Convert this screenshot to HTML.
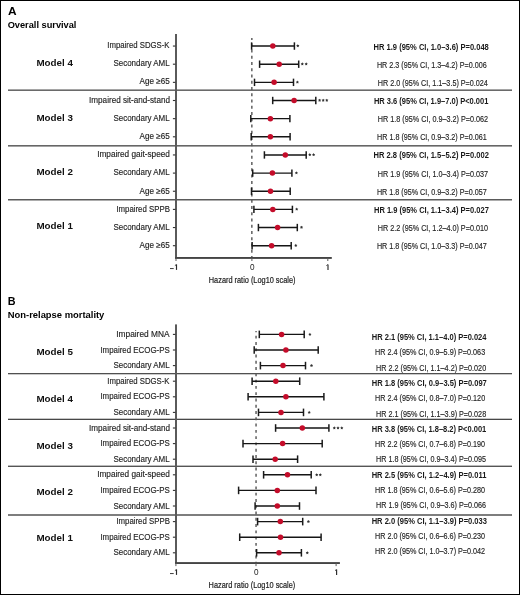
<!DOCTYPE html>
<html><head><meta charset="utf-8"><style>
html,body{margin:0;padding:0;background:#fff;width:520px;height:595px;overflow:hidden}
svg{display:block;will-change:transform}
text{font-family:"Liberation Sans",sans-serif}
.pl{font-size:11.4px;font-weight:bold;fill:#000}
.ttl{font-size:9.9px;font-weight:bold;fill:#000}
.model{font-size:9.8px;font-weight:bold;fill:#111}
.lab{font-size:8.6px;fill:#1e1e1e;stroke:#222;stroke-width:0.15px}
.rr{font-size:8.6px;fill:#262626;stroke:#222;stroke-width:0.15px}
.rb{font-size:8.6px;font-weight:bold;fill:#1a1a1a}
.tick{font-size:8.2px;fill:#222}
.axt{font-size:9.0px;fill:#222;stroke:#222;stroke-width:0.2px}
</style></head><body>
<svg width="520" height="595" viewBox="0 0 520 595">
<rect width="520" height="595" fill="#fff"/>
<rect x="0.5" y="0.5" width="519" height="594" fill="none" stroke="#000" stroke-width="1"/>
<text x="7.9" y="14.9" class="pl" textLength="8.6" lengthAdjust="spacingAndGlyphs">A</text>
<text x="7.63" y="27.6" class="ttl" textLength="68.8" lengthAdjust="spacingAndGlyphs">Overall survival</text>
<text x="7.8" y="304.8" class="pl" textLength="7.8" lengthAdjust="spacingAndGlyphs">B</text>
<text x="7.74" y="318.2" class="ttl" textLength="96.63" lengthAdjust="spacingAndGlyphs">Non-relapse mortality</text>
<rect x="8" y="89.4" width="504" height="1.6" fill="#6a6a6a"/>
<rect x="8" y="145" width="504" height="1.6" fill="#666"/>
<rect x="8" y="199" width="504" height="1.5" fill="#5a5a5a"/>
<line x1="251.85" y1="37.9" x2="251.85" y2="257.8" stroke="#555" stroke-width="1.4" stroke-dasharray="3.0 3.26" stroke-dashoffset="1.0"/>
<rect x="175" y="34" width="2" height="224.8" fill="#5a5a5a"/>
<rect x="175" y="257" width="156.8" height="1.9" fill="#444"/>
<rect x="175.5" y="257.8" width="1" height="3.2" fill="#5a5a5a"/>
<rect x="251.4" y="257.8" width="1" height="3.2" fill="#5a5a5a"/>
<rect x="327.3" y="257.8" width="1" height="3.2" fill="#5a5a5a"/>
<rect x="172.9" y="45.5" width="2.6" height="1.1" fill="#333"/>
<text x="107.3" y="47.8" class="lab" textLength="62.25" lengthAdjust="spacingAndGlyphs">Impaired SDGS-K</text>
<line x1="251.6" y1="46.05" x2="294.4" y2="46.05" stroke="#151515" stroke-width="1.4"/>
<line x1="251.6" y1="42.35" x2="251.6" y2="49.75" stroke="#1a1a1a" stroke-width="1.5"/>
<line x1="294.4" y1="42.35" x2="294.4" y2="49.75" stroke="#1a1a1a" stroke-width="1.5"/>
<circle cx="272.8" cy="46.05" r="2.75" fill="#c40c2a"/>
<polygon fill="#333" points="297.8,44.2 298.33,45.12 299.37,45.34 298.66,46.13 298.77,47.18 297.8,46.76 296.83,47.18 296.94,46.13 296.23,45.34 297.27,45.12"/>
<text x="373.55" y="49.8" class="rb" textLength="115.25" lengthAdjust="spacingAndGlyphs">HR 1.9 (95% CI, 1.0–3.6) P=0.048</text>
<rect x="172.9" y="63.65" width="2.6" height="1.1" fill="#333"/>
<text x="113.43" y="66.04" class="lab" textLength="56.27" lengthAdjust="spacingAndGlyphs">Secondary AML</text>
<line x1="259.6" y1="64.2" x2="298.7" y2="64.2" stroke="#151515" stroke-width="1.4"/>
<line x1="259.6" y1="60.5" x2="259.6" y2="67.9" stroke="#1a1a1a" stroke-width="1.5"/>
<line x1="298.7" y1="60.5" x2="298.7" y2="67.9" stroke="#1a1a1a" stroke-width="1.5"/>
<circle cx="279.2" cy="64.2" r="2.75" fill="#c40c2a"/>
<polygon fill="#333" points="302.3,62.35 302.83,63.27 303.87,63.49 303.16,64.28 303.27,65.33 302.3,64.91 301.33,65.33 301.44,64.28 300.73,63.49 301.77,63.27"/>
<polygon fill="#333" points="306.2,62.35 306.73,63.27 307.77,63.49 307.06,64.28 307.17,65.33 306.2,64.91 305.23,65.33 305.34,64.28 304.63,63.49 305.67,63.27"/>
<text x="376.92" y="67.91" class="rr" textLength="109.74" lengthAdjust="spacingAndGlyphs">HR 2.3 (95% CI, 1.3–4.2) P=0.006</text>
<rect x="172.9" y="81.8" width="2.6" height="1.1" fill="#333"/>
<text x="139.6" y="84.28" class="lab" textLength="30.19" lengthAdjust="spacingAndGlyphs">Age ≥65</text>
<line x1="254.5" y1="82.35" x2="293.5" y2="82.35" stroke="#151515" stroke-width="1.4"/>
<line x1="254.5" y1="78.65" x2="254.5" y2="86.05" stroke="#1a1a1a" stroke-width="1.5"/>
<line x1="293.5" y1="78.65" x2="293.5" y2="86.05" stroke="#1a1a1a" stroke-width="1.5"/>
<circle cx="274.1" cy="82.35" r="2.75" fill="#c40c2a"/>
<polygon fill="#333" points="297.4,80.5 297.93,81.42 298.97,81.64 298.26,82.43 298.37,83.48 297.4,83.06 296.43,83.48 296.54,82.43 295.83,81.64 296.87,81.42"/>
<text x="377.82" y="86.02" class="rr" textLength="110.07" lengthAdjust="spacingAndGlyphs">HR 2.0 (95% CI, 1.1–3.5) P=0.024</text>
<rect x="172.9" y="99.95" width="2.6" height="1.1" fill="#333"/>
<text x="89.07" y="102.52" class="lab" textLength="80.89" lengthAdjust="spacingAndGlyphs">Impaired sit-and-stand</text>
<line x1="272.7" y1="100.5" x2="315.8" y2="100.5" stroke="#151515" stroke-width="1.4"/>
<line x1="272.7" y1="96.8" x2="272.7" y2="104.2" stroke="#1a1a1a" stroke-width="1.5"/>
<line x1="315.8" y1="96.8" x2="315.8" y2="104.2" stroke="#1a1a1a" stroke-width="1.5"/>
<circle cx="294.1" cy="100.5" r="2.75" fill="#c40c2a"/>
<polygon fill="#333" points="319.6,98.65 320.13,99.57 321.17,99.79 320.46,100.58 320.57,101.63 319.6,101.21 318.63,101.63 318.74,100.58 318.03,99.79 319.07,99.57"/>
<polygon fill="#333" points="323.2,98.65 323.73,99.57 324.77,99.79 324.06,100.58 324.17,101.63 323.2,101.21 322.23,101.63 322.34,100.58 321.63,99.79 322.67,99.57"/>
<polygon fill="#333" points="326.8,98.65 327.33,99.57 328.37,99.79 327.66,100.58 327.77,101.63 326.8,101.21 325.83,101.63 325.94,100.58 325.23,99.79 326.27,99.57"/>
<text x="373.95" y="104.13" class="rb" textLength="114.45" lengthAdjust="spacingAndGlyphs">HR 3.6 (95% CI, 1.9–7.0) P<0.001</text>
<rect x="172.9" y="118.1" width="2.6" height="1.1" fill="#333"/>
<text x="113.43" y="120.76" class="lab" textLength="56.27" lengthAdjust="spacingAndGlyphs">Secondary AML</text>
<line x1="250.8" y1="118.65" x2="289.9" y2="118.65" stroke="#151515" stroke-width="1.4"/>
<line x1="250.8" y1="114.95" x2="250.8" y2="122.35" stroke="#1a1a1a" stroke-width="1.5"/>
<line x1="289.9" y1="114.95" x2="289.9" y2="122.35" stroke="#1a1a1a" stroke-width="1.5"/>
<circle cx="270.4" cy="118.65" r="2.75" fill="#c40c2a"/>
<text x="377.82" y="122.24" class="rr" textLength="110.21" lengthAdjust="spacingAndGlyphs">HR 1.8 (95% CI, 0.9–3.2) P=0.062</text>
<rect x="172.9" y="136.25" width="2.6" height="1.1" fill="#333"/>
<text x="139.6" y="139" class="lab" textLength="30.19" lengthAdjust="spacingAndGlyphs">Age ≥65</text>
<line x1="251.2" y1="136.8" x2="290.1" y2="136.8" stroke="#151515" stroke-width="1.4"/>
<line x1="251.2" y1="133.1" x2="251.2" y2="140.5" stroke="#1a1a1a" stroke-width="1.5"/>
<line x1="290.1" y1="133.1" x2="290.1" y2="140.5" stroke="#1a1a1a" stroke-width="1.5"/>
<circle cx="270.4" cy="136.8" r="2.75" fill="#c40c2a"/>
<text x="377.02" y="140.35" class="rr" textLength="109.71" lengthAdjust="spacingAndGlyphs">HR 1.8 (95% CI, 0.9–3.2) P=0.061</text>
<rect x="172.9" y="154.4" width="2.6" height="1.1" fill="#333"/>
<text x="97.16" y="157.24" class="lab" textLength="72.8" lengthAdjust="spacingAndGlyphs">Impaired gait-speed</text>
<line x1="264.4" y1="154.95" x2="306.2" y2="154.95" stroke="#151515" stroke-width="1.4"/>
<line x1="264.4" y1="151.25" x2="264.4" y2="158.65" stroke="#1a1a1a" stroke-width="1.5"/>
<line x1="306.2" y1="151.25" x2="306.2" y2="158.65" stroke="#1a1a1a" stroke-width="1.5"/>
<circle cx="285.3" cy="154.95" r="2.75" fill="#c40c2a"/>
<polygon fill="#333" points="309.8,153.1 310.33,154.02 311.37,154.24 310.66,155.03 310.77,156.08 309.8,155.66 308.83,156.08 308.94,155.03 308.23,154.24 309.27,154.02"/>
<polygon fill="#333" points="313.6,153.1 314.13,154.02 315.17,154.24 314.46,155.03 314.57,156.08 313.6,155.66 312.63,156.08 312.74,155.03 312.03,154.24 313.07,154.02"/>
<text x="373.55" y="158.46" class="rb" textLength="115.33" lengthAdjust="spacingAndGlyphs">HR 2.8 (95% CI, 1.5–5.2) P=0.002</text>
<rect x="172.9" y="172.55" width="2.6" height="1.1" fill="#333"/>
<text x="113.43" y="175.48" class="lab" textLength="56.27" lengthAdjust="spacingAndGlyphs">Secondary AML</text>
<line x1="252.7" y1="173.1" x2="291.9" y2="173.1" stroke="#151515" stroke-width="1.4"/>
<line x1="252.7" y1="169.4" x2="252.7" y2="176.8" stroke="#1a1a1a" stroke-width="1.5"/>
<line x1="291.9" y1="169.4" x2="291.9" y2="176.8" stroke="#1a1a1a" stroke-width="1.5"/>
<circle cx="272.4" cy="173.1" r="2.75" fill="#c40c2a"/>
<polygon fill="#333" points="296.4,171.25 296.93,172.17 297.97,172.39 297.26,173.18 297.37,174.23 296.4,173.81 295.43,174.23 295.54,173.18 294.83,172.39 295.87,172.17"/>
<text x="377.82" y="176.57" class="rr" textLength="110.21" lengthAdjust="spacingAndGlyphs">HR 1.9 (95% CI, 1.0–3.4) P=0.037</text>
<rect x="172.9" y="190.7" width="2.6" height="1.1" fill="#333"/>
<text x="139.6" y="193.72" class="lab" textLength="30.19" lengthAdjust="spacingAndGlyphs">Age ≥65</text>
<line x1="251.5" y1="191.25" x2="290.2" y2="191.25" stroke="#151515" stroke-width="1.4"/>
<line x1="251.5" y1="187.55" x2="251.5" y2="194.95" stroke="#1a1a1a" stroke-width="1.5"/>
<line x1="290.2" y1="187.55" x2="290.2" y2="194.95" stroke="#1a1a1a" stroke-width="1.5"/>
<circle cx="270.5" cy="191.25" r="2.75" fill="#c40c2a"/>
<text x="376.92" y="194.68" class="rr" textLength="109.81" lengthAdjust="spacingAndGlyphs">HR 1.8 (95% CI, 0.9–3.2) P=0.057</text>
<rect x="172.9" y="208.85" width="2.6" height="1.1" fill="#333"/>
<text x="116.4" y="211.96" class="lab" textLength="53.47" lengthAdjust="spacingAndGlyphs">Impaired SPPB</text>
<line x1="253.9" y1="209.4" x2="292.4" y2="209.4" stroke="#151515" stroke-width="1.4"/>
<line x1="253.9" y1="205.7" x2="253.9" y2="213.1" stroke="#1a1a1a" stroke-width="1.5"/>
<line x1="292.4" y1="205.7" x2="292.4" y2="213.1" stroke="#1a1a1a" stroke-width="1.5"/>
<circle cx="272.8" cy="209.4" r="2.75" fill="#c40c2a"/>
<polygon fill="#333" points="296.7,207.55 297.23,208.47 298.27,208.69 297.56,209.48 297.67,210.53 296.7,210.11 295.73,210.53 295.84,209.48 295.13,208.69 296.17,208.47"/>
<text x="373.95" y="212.79" class="rb" textLength="114.92" lengthAdjust="spacingAndGlyphs">HR 1.9 (95% CI, 1.1–3.4) P=0.027</text>
<rect x="172.9" y="227" width="2.6" height="1.1" fill="#333"/>
<text x="113.43" y="230.2" class="lab" textLength="56.27" lengthAdjust="spacingAndGlyphs">Secondary AML</text>
<line x1="258.4" y1="227.55" x2="297.3" y2="227.55" stroke="#151515" stroke-width="1.4"/>
<line x1="258.4" y1="223.85" x2="258.4" y2="231.25" stroke="#1a1a1a" stroke-width="1.5"/>
<line x1="297.3" y1="223.85" x2="297.3" y2="231.25" stroke="#1a1a1a" stroke-width="1.5"/>
<circle cx="277.6" cy="227.55" r="2.75" fill="#c40c2a"/>
<polygon fill="#333" points="301.5,225.7 302.03,226.62 303.07,226.84 302.36,227.63 302.47,228.68 301.5,228.26 300.53,228.68 300.64,227.63 299.93,226.84 300.97,226.62"/>
<text x="377.82" y="230.9" class="rr" textLength="110.14" lengthAdjust="spacingAndGlyphs">HR 2.2 (95% CI, 1.2–4.0) P=0.010</text>
<rect x="172.9" y="245.15" width="2.6" height="1.1" fill="#333"/>
<text x="139.6" y="248.44" class="lab" textLength="30.19" lengthAdjust="spacingAndGlyphs">Age ≥65</text>
<line x1="252.1" y1="245.7" x2="291.2" y2="245.7" stroke="#151515" stroke-width="1.4"/>
<line x1="252.1" y1="242" x2="252.1" y2="249.4" stroke="#1a1a1a" stroke-width="1.5"/>
<line x1="291.2" y1="242" x2="291.2" y2="249.4" stroke="#1a1a1a" stroke-width="1.5"/>
<circle cx="271.6" cy="245.7" r="2.75" fill="#c40c2a"/>
<polygon fill="#333" points="295.8,243.85 296.33,244.77 297.37,244.99 296.66,245.78 296.77,246.83 295.8,246.41 294.83,246.83 294.94,245.78 294.23,244.99 295.27,244.77"/>
<text x="376.92" y="249.01" class="rr" textLength="109.81" lengthAdjust="spacingAndGlyphs">HR 1.8 (95% CI, 1.0–3.3) P=0.047</text>
<text x="36.4" y="66.2" class="model">Model 4</text>
<text x="36.4" y="120.7" class="model">Model 3</text>
<text x="36.4" y="174.8" class="model">Model 2</text>
<text x="36.4" y="229.4" class="model">Model 1</text>
<rect x="170" y="268.15" width="3.7" height="0.9" fill="#2a2a2a"/>
<path d="M176.5 264.4V269.9" stroke="#2a2a2a" stroke-width="1.15" fill="none"/><path d="M176.3 264.6L174.9 265.6" stroke="#2a2a2a" stroke-width="0.9" fill="none"/>
<path d="M328 264.4V269.9" stroke="#2a2a2a" stroke-width="1.15" fill="none"/><path d="M327.8 264.6L326.4 265.6" stroke="#2a2a2a" stroke-width="0.9" fill="none"/>
<text x="252.2" y="269.9" text-anchor="middle" class="tick">0</text>
<text x="208.81" y="283" class="axt" textLength="86.68" lengthAdjust="spacingAndGlyphs">Hazard ratio (Log10 scale)</text>
<rect x="8" y="373" width="504" height="1.3" fill="#505050"/>
<rect x="8" y="418.7" width="504" height="1.3" fill="#474747"/>
<rect x="8" y="465.6" width="504" height="1.4" fill="#555"/>
<rect x="8" y="514.1" width="504" height="1.8" fill="#707070"/>
<line x1="256.05" y1="330.9" x2="256.05" y2="562.9" stroke="#555" stroke-width="1.4" stroke-dasharray="2.9 3.38" stroke-dashoffset="1.48"/>
<rect x="175" y="324.4" width="2" height="239.5" fill="#5a5a5a"/>
<rect x="175" y="562.1" width="164.9" height="1.9" fill="#444"/>
<rect x="175.4" y="562.9" width="1" height="3.2" fill="#5a5a5a"/>
<rect x="255.5" y="562.9" width="1" height="3.2" fill="#5a5a5a"/>
<rect x="335.6" y="562.9" width="1" height="3.2" fill="#5a5a5a"/>
<rect x="172.9" y="333.85" width="2.6" height="1.1" fill="#333"/>
<text x="116.25" y="336.9" class="lab" textLength="53.22" lengthAdjust="spacingAndGlyphs">Impaired MNA</text>
<line x1="259.3" y1="334.4" x2="304.2" y2="334.4" stroke="#151515" stroke-width="1.4"/>
<line x1="259.3" y1="330.6" x2="259.3" y2="338.2" stroke="#1a1a1a" stroke-width="1.5"/>
<line x1="304.2" y1="330.6" x2="304.2" y2="338.2" stroke="#1a1a1a" stroke-width="1.5"/>
<circle cx="281.6" cy="334.4" r="2.75" fill="#c40c2a"/>
<polygon fill="#333" points="309.9,332.75 310.43,333.67 311.47,333.89 310.76,334.68 310.87,335.73 309.9,335.31 308.93,335.73 309.04,334.68 308.33,333.89 309.37,333.67"/>
<text x="371.75" y="339.9" class="rb" textLength="114.72" lengthAdjust="spacingAndGlyphs">HR 2.1 (95% CI, 1.1–4.0) P=0.024</text>
<rect x="172.9" y="349.45" width="2.6" height="1.1" fill="#333"/>
<text x="100.39" y="352.5" class="lab" textLength="69.4" lengthAdjust="spacingAndGlyphs">Impaired ECOG-PS</text>
<line x1="254.2" y1="350" x2="318.2" y2="350" stroke="#151515" stroke-width="1.4"/>
<line x1="254.2" y1="346.2" x2="254.2" y2="353.8" stroke="#1a1a1a" stroke-width="1.5"/>
<line x1="318.2" y1="346.2" x2="318.2" y2="353.8" stroke="#1a1a1a" stroke-width="1.5"/>
<circle cx="285.9" cy="350" r="2.75" fill="#c40c2a"/>
<text x="375.02" y="355.22" class="rr" textLength="110.14" lengthAdjust="spacingAndGlyphs">HR 2.4 (95% CI, 0.9–5.9) P=0.063</text>
<rect x="172.9" y="365.05" width="2.6" height="1.1" fill="#333"/>
<text x="113.43" y="368.1" class="lab" textLength="56.27" lengthAdjust="spacingAndGlyphs">Secondary AML</text>
<line x1="260.4" y1="365.6" x2="305.5" y2="365.6" stroke="#151515" stroke-width="1.4"/>
<line x1="260.4" y1="361.8" x2="260.4" y2="369.4" stroke="#1a1a1a" stroke-width="1.5"/>
<line x1="305.5" y1="361.8" x2="305.5" y2="369.4" stroke="#1a1a1a" stroke-width="1.5"/>
<circle cx="283" cy="365.6" r="2.75" fill="#c40c2a"/>
<polygon fill="#333" points="311.5,363.95 312.03,364.87 313.07,365.09 312.36,365.88 312.47,366.93 311.5,366.51 310.53,366.93 310.64,365.88 309.93,365.09 310.97,364.87"/>
<text x="376.02" y="370.54" class="rr" textLength="110.14" lengthAdjust="spacingAndGlyphs">HR 2.2 (95% CI, 1.1–4.2) P=0.020</text>
<rect x="172.9" y="380.65" width="2.6" height="1.1" fill="#333"/>
<text x="107.3" y="383.7" class="lab" textLength="62.25" lengthAdjust="spacingAndGlyphs">Impaired SDGS-K</text>
<line x1="252.1" y1="381.2" x2="299.7" y2="381.2" stroke="#151515" stroke-width="1.4"/>
<line x1="252.1" y1="377.4" x2="252.1" y2="385" stroke="#1a1a1a" stroke-width="1.5"/>
<line x1="299.7" y1="377.4" x2="299.7" y2="385" stroke="#1a1a1a" stroke-width="1.5"/>
<circle cx="275.8" cy="381.2" r="2.75" fill="#c40c2a"/>
<text x="371.75" y="385.86" class="rb" textLength="115.02" lengthAdjust="spacingAndGlyphs">HR 1.8 (95% CI, 0.9–3.5) P=0.097</text>
<rect x="172.9" y="396.25" width="2.6" height="1.1" fill="#333"/>
<text x="100.39" y="399.3" class="lab" textLength="69.4" lengthAdjust="spacingAndGlyphs">Impaired ECOG-PS</text>
<line x1="248.1" y1="396.8" x2="323.9" y2="396.8" stroke="#151515" stroke-width="1.4"/>
<line x1="248.1" y1="393" x2="248.1" y2="400.6" stroke="#1a1a1a" stroke-width="1.5"/>
<line x1="323.9" y1="393" x2="323.9" y2="400.6" stroke="#1a1a1a" stroke-width="1.5"/>
<circle cx="285.9" cy="396.8" r="2.75" fill="#c40c2a"/>
<text x="375.02" y="401.18" class="rr" textLength="110.14" lengthAdjust="spacingAndGlyphs">HR 2.4 (95% CI, 0.8–7.0) P=0.120</text>
<rect x="172.9" y="411.85" width="2.6" height="1.1" fill="#333"/>
<text x="113.43" y="414.9" class="lab" textLength="56.27" lengthAdjust="spacingAndGlyphs">Secondary AML</text>
<line x1="258.5" y1="412.4" x2="303.5" y2="412.4" stroke="#151515" stroke-width="1.4"/>
<line x1="258.5" y1="408.6" x2="258.5" y2="416.2" stroke="#1a1a1a" stroke-width="1.5"/>
<line x1="303.5" y1="408.6" x2="303.5" y2="416.2" stroke="#1a1a1a" stroke-width="1.5"/>
<circle cx="281" cy="412.4" r="2.75" fill="#c40c2a"/>
<polygon fill="#333" points="309.2,410.75 309.73,411.67 310.77,411.89 310.06,412.68 310.17,413.73 309.2,413.31 308.23,413.73 308.34,412.68 307.63,411.89 308.67,411.67"/>
<text x="376.02" y="416.5" class="rr" textLength="110.14" lengthAdjust="spacingAndGlyphs">HR 2.1 (95% CI, 1.1–3.9) P=0.028</text>
<rect x="172.9" y="427.45" width="2.6" height="1.1" fill="#333"/>
<text x="89.07" y="430.5" class="lab" textLength="80.89" lengthAdjust="spacingAndGlyphs">Impaired sit-and-stand</text>
<line x1="275.6" y1="428" x2="328.9" y2="428" stroke="#151515" stroke-width="1.4"/>
<line x1="275.6" y1="424.2" x2="275.6" y2="431.8" stroke="#1a1a1a" stroke-width="1.5"/>
<line x1="328.9" y1="424.2" x2="328.9" y2="431.8" stroke="#1a1a1a" stroke-width="1.5"/>
<circle cx="302.3" cy="428" r="2.75" fill="#c40c2a"/>
<polygon fill="#333" points="334.3,426.35 334.83,427.27 335.87,427.49 335.16,428.28 335.27,429.33 334.3,428.91 333.33,429.33 333.44,428.28 332.73,427.49 333.77,427.27"/>
<polygon fill="#333" points="338,426.35 338.53,427.27 339.57,427.49 338.86,428.28 338.97,429.33 338,428.91 337.03,429.33 337.14,428.28 336.43,427.49 337.47,427.27"/>
<polygon fill="#333" points="341.8,426.35 342.33,427.27 343.37,427.49 342.66,428.28 342.77,429.33 341.8,428.91 340.83,429.33 340.94,428.28 340.23,427.49 341.27,427.27"/>
<text x="371.75" y="431.82" class="rb" textLength="114.55" lengthAdjust="spacingAndGlyphs">HR 3.8 (95% CI, 1.8–8.2) P<0.001</text>
<rect x="172.9" y="443.05" width="2.6" height="1.1" fill="#333"/>
<text x="100.39" y="446.1" class="lab" textLength="69.4" lengthAdjust="spacingAndGlyphs">Impaired ECOG-PS</text>
<line x1="243" y1="443.6" x2="322.2" y2="443.6" stroke="#151515" stroke-width="1.4"/>
<line x1="243" y1="439.8" x2="243" y2="447.4" stroke="#1a1a1a" stroke-width="1.5"/>
<line x1="322.2" y1="439.8" x2="322.2" y2="447.4" stroke="#1a1a1a" stroke-width="1.5"/>
<circle cx="282.6" cy="443.6" r="2.75" fill="#c40c2a"/>
<text x="375.02" y="447.14" class="rr" textLength="110.04" lengthAdjust="spacingAndGlyphs">HR 2.2 (95% CI, 0.7–6.8) P=0.190</text>
<rect x="172.9" y="458.65" width="2.6" height="1.1" fill="#333"/>
<text x="113.43" y="461.7" class="lab" textLength="56.27" lengthAdjust="spacingAndGlyphs">Secondary AML</text>
<line x1="253" y1="459.2" x2="297.6" y2="459.2" stroke="#151515" stroke-width="1.4"/>
<line x1="253" y1="455.4" x2="253" y2="463" stroke="#1a1a1a" stroke-width="1.5"/>
<line x1="297.6" y1="455.4" x2="297.6" y2="463" stroke="#1a1a1a" stroke-width="1.5"/>
<circle cx="275.2" cy="459.2" r="2.75" fill="#c40c2a"/>
<text x="376.02" y="462.46" class="rr" textLength="110.04" lengthAdjust="spacingAndGlyphs">HR 1.8 (95% CI, 0.9–3.4) P=0.095</text>
<rect x="172.9" y="474.25" width="2.6" height="1.1" fill="#333"/>
<text x="97.16" y="477.3" class="lab" textLength="72.8" lengthAdjust="spacingAndGlyphs">Impaired gait-speed</text>
<line x1="263.6" y1="474.8" x2="311.2" y2="474.8" stroke="#151515" stroke-width="1.4"/>
<line x1="263.6" y1="471" x2="263.6" y2="478.6" stroke="#1a1a1a" stroke-width="1.5"/>
<line x1="311.2" y1="471" x2="311.2" y2="478.6" stroke="#1a1a1a" stroke-width="1.5"/>
<circle cx="287.5" cy="474.8" r="2.75" fill="#c40c2a"/>
<polygon fill="#333" points="316.7,473.15 317.23,474.07 318.27,474.29 317.56,475.08 317.67,476.13 316.7,475.71 315.73,476.13 315.84,475.08 315.13,474.29 316.17,474.07"/>
<polygon fill="#333" points="320.3,473.15 320.83,474.07 321.87,474.29 321.16,475.08 321.27,476.13 320.3,475.71 319.33,476.13 319.44,475.08 318.73,474.29 319.77,474.07"/>
<text x="371.65" y="477.78" class="rb" textLength="114.75" lengthAdjust="spacingAndGlyphs">HR 2.5 (95% CI, 1.2–4.9) P=0.011</text>
<rect x="172.9" y="489.85" width="2.6" height="1.1" fill="#333"/>
<text x="100.39" y="492.9" class="lab" textLength="69.4" lengthAdjust="spacingAndGlyphs">Impaired ECOG-PS</text>
<line x1="238.6" y1="490.4" x2="316" y2="490.4" stroke="#151515" stroke-width="1.4"/>
<line x1="238.6" y1="486.6" x2="238.6" y2="494.2" stroke="#1a1a1a" stroke-width="1.5"/>
<line x1="316" y1="486.6" x2="316" y2="494.2" stroke="#1a1a1a" stroke-width="1.5"/>
<circle cx="277.3" cy="490.4" r="2.75" fill="#c40c2a"/>
<text x="375.02" y="493.1" class="rr" textLength="110.04" lengthAdjust="spacingAndGlyphs">HR 1.8 (95% CI, 0.6–5.6) P=0.280</text>
<rect x="172.9" y="505.45" width="2.6" height="1.1" fill="#333"/>
<text x="113.43" y="508.5" class="lab" textLength="56.27" lengthAdjust="spacingAndGlyphs">Secondary AML</text>
<line x1="255.1" y1="506" x2="299.5" y2="506" stroke="#151515" stroke-width="1.4"/>
<line x1="255.1" y1="502.2" x2="255.1" y2="509.8" stroke="#1a1a1a" stroke-width="1.5"/>
<line x1="299.5" y1="502.2" x2="299.5" y2="509.8" stroke="#1a1a1a" stroke-width="1.5"/>
<circle cx="277.3" cy="506" r="2.75" fill="#c40c2a"/>
<text x="376.02" y="508.42" class="rr" textLength="110.04" lengthAdjust="spacingAndGlyphs">HR 1.9 (95% CI, 0.9–3.6) P=0.066</text>
<rect x="172.9" y="521.05" width="2.6" height="1.1" fill="#333"/>
<text x="116.4" y="524.1" class="lab" textLength="53.47" lengthAdjust="spacingAndGlyphs">Impaired SPPB</text>
<line x1="257.6" y1="521.6" x2="302.7" y2="521.6" stroke="#151515" stroke-width="1.4"/>
<line x1="257.6" y1="517.8" x2="257.6" y2="525.4" stroke="#1a1a1a" stroke-width="1.5"/>
<line x1="302.7" y1="517.8" x2="302.7" y2="525.4" stroke="#1a1a1a" stroke-width="1.5"/>
<circle cx="280.3" cy="521.6" r="2.75" fill="#c40c2a"/>
<polygon fill="#333" points="308.4,519.95 308.93,520.87 309.97,521.09 309.26,521.88 309.37,522.93 308.4,522.51 307.43,522.93 307.54,521.88 306.83,521.09 307.87,520.87"/>
<text x="371.65" y="523.74" class="rb" textLength="115.33" lengthAdjust="spacingAndGlyphs">HR 2.0 (95% CI, 1.1–3.9) P=0.033</text>
<rect x="172.9" y="536.65" width="2.6" height="1.1" fill="#333"/>
<text x="100.39" y="539.7" class="lab" textLength="69.4" lengthAdjust="spacingAndGlyphs">Impaired ECOG-PS</text>
<line x1="239.7" y1="537.2" x2="321.1" y2="537.2" stroke="#151515" stroke-width="1.4"/>
<line x1="239.7" y1="533.4" x2="239.7" y2="541" stroke="#1a1a1a" stroke-width="1.5"/>
<line x1="321.1" y1="533.4" x2="321.1" y2="541" stroke="#1a1a1a" stroke-width="1.5"/>
<circle cx="280.5" cy="537.2" r="2.75" fill="#c40c2a"/>
<text x="375.02" y="539.06" class="rr" textLength="110.04" lengthAdjust="spacingAndGlyphs">HR 2.0 (95% CI, 0.6–6.6) P=0.230</text>
<rect x="172.9" y="552.25" width="2.6" height="1.1" fill="#333"/>
<text x="113.43" y="555.3" class="lab" textLength="56.27" lengthAdjust="spacingAndGlyphs">Secondary AML</text>
<line x1="256.6" y1="552.8" x2="301.4" y2="552.8" stroke="#151515" stroke-width="1.4"/>
<line x1="256.6" y1="549" x2="256.6" y2="556.6" stroke="#1a1a1a" stroke-width="1.5"/>
<line x1="301.4" y1="549" x2="301.4" y2="556.6" stroke="#1a1a1a" stroke-width="1.5"/>
<circle cx="279" cy="552.8" r="2.75" fill="#c40c2a"/>
<polygon fill="#333" points="307.3,551.15 307.83,552.07 308.87,552.29 308.16,553.08 308.27,554.13 307.3,553.71 306.33,554.13 306.44,553.08 305.73,552.29 306.77,552.07"/>
<text x="375.02" y="554.38" class="rr" textLength="110.11" lengthAdjust="spacingAndGlyphs">HR 2.0 (95% CI, 1.0–3.7) P=0.042</text>
<text x="36.4" y="355.1" class="model">Model 5</text>
<text x="36.4" y="401.8" class="model">Model 4</text>
<text x="36.4" y="448.5" class="model">Model 3</text>
<text x="36.4" y="495" class="model">Model 2</text>
<text x="36.4" y="541.3" class="model">Model 1</text>
<rect x="170" y="573.15" width="3.7" height="0.9" fill="#2a2a2a"/>
<path d="M176.5 569.4V574.9" stroke="#2a2a2a" stroke-width="1.15" fill="none"/><path d="M176.3 569.6L174.9 570.6" stroke="#2a2a2a" stroke-width="0.9" fill="none"/>
<path d="M336.6 569.4V574.9" stroke="#2a2a2a" stroke-width="1.15" fill="none"/><path d="M336.4 569.6L335 570.6" stroke="#2a2a2a" stroke-width="0.9" fill="none"/>
<text x="256.4" y="574.9" text-anchor="middle" class="tick">0</text>
<text x="208.61" y="588" class="axt" textLength="86.68" lengthAdjust="spacingAndGlyphs">Hazard ratio (Log10 scale)</text>
</svg>
</body></html>
